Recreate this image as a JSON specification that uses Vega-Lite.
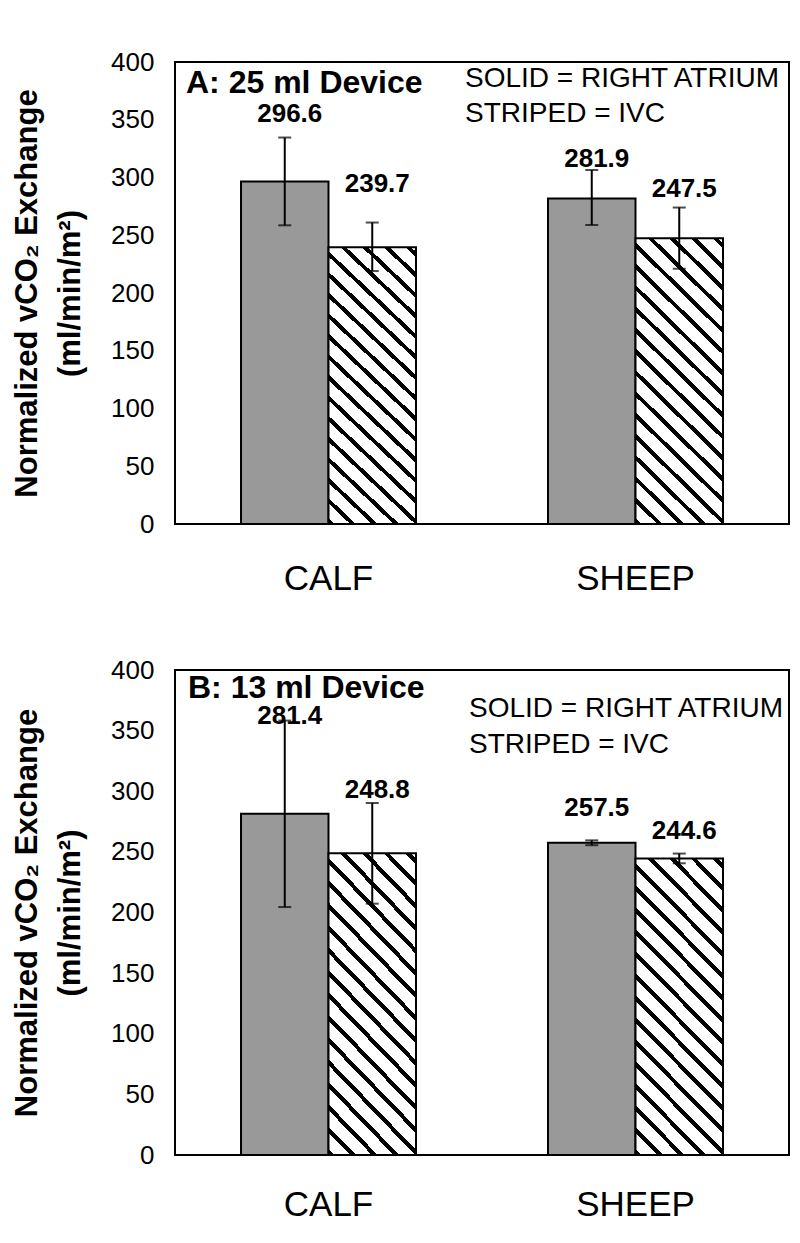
{
  "$schema": "https://vega.github.io/schema/vega-lite/v6.json",
  "background": "white",
  "padding": {"left": 10, "top": 48, "right": 10, "bottom": 5},
  "config": {
    "font": "Liberation Sans",
    "view": {"stroke": "black", "strokeWidth": 2},
    "axis": {"grid": false, "domain": false, "ticks": false, "labelColor": "black", "titleColor": "black", "labelFont": "Liberation Sans", "titleFont": "Liberation Sans"}
  },
  "datasets": {
    "bars": [
      {"panel": "A", "animal": "CALF", "site": "RA", "value": 296.6, "lo": 258.6, "hi": 334.6, "label_pos": 348},
      {"panel": "A", "animal": "CALF", "site": "IVC", "value": 239.7, "lo": 219.0, "hi": 261.0, "label_pos": 287.4},
      {"panel": "A", "animal": "SHEEP", "site": "RA", "value": 281.9, "lo": 258.9, "hi": 306.5, "label_pos": 309},
      {"panel": "A", "animal": "SHEEP", "site": "IVC", "value": 247.5, "lo": 221.0, "hi": 274.0, "label_pos": 283},
      {"panel": "B", "animal": "CALF", "site": "RA", "value": 281.4, "lo": 204.5, "hi": 358.3, "label_pos": 355.5},
      {"panel": "B", "animal": "CALF", "site": "IVC", "value": 248.8, "lo": 207.3, "hi": 290.3, "label_pos": 294.4},
      {"panel": "B", "animal": "SHEEP", "site": "RA", "value": 257.5, "lo": 255.5, "hi": 259.5, "label_pos": 279.6},
      {"panel": "B", "animal": "SHEEP", "site": "IVC", "value": 244.6, "lo": 240.6, "hi": 248.6, "label_pos": 260.6}
    ],
    "notes": [
      {"panel": "A", "kind": "title", "text": "A: 25 ml Device", "at": 373.2},
      {"panel": "A", "kind": "legend", "text": "SOLID = RIGHT ATRIUM", "at": 378.4},
      {"panel": "A", "kind": "legend", "text": "STRIPED = IVC", "at": 348},
      {"panel": "B", "kind": "title", "text": "B: 13 ml Device", "at": 376.9},
      {"panel": "B", "kind": "legend", "text": "SOLID = RIGHT ATRIUM", "at": 361.2},
      {"panel": "B", "kind": "legend", "text": "STRIPED = IVC", "at": 331.5}
    ]
  },
  "spacing": 59,
  "vconcat": [
    {
      "width": 614,
      "height": 462,
      "layer": [
        {
          "data": {"name": "bars"},
          "transform": [{"filter": "datum.panel === 'A' && datum.site === 'RA'"}],
          "mark": {"type": "bar", "fill": "#999999", "stroke": "black", "strokeWidth": 2},
          "encoding": {
            "x": {"field": "animal", "type": "nominal", "sort": ["CALF", "SHEEP"], "scale": {"domain": ["CALF", "SHEEP"], "paddingInner": 0.43, "paddingOuter": 0.215}, "axis": {"title": null, "labelAngle": 0, "labelFontSize": 35, "labelPadding": 37}},
            "xOffset": {"field": "site", "type": "nominal", "scale": {"domain": ["RA", "IVC"], "paddingInner": 0, "paddingOuter": 0}},
            "y": {"field": "value", "type": "quantitative", "scale": {"domain": [0, 400], "nice": false}, "axis": {"values": [0, 50, 100, 150, 200, 250, 300, 350, 400], "labelFontSize": 26, "labelPadding": 21, "title": ["Normalized vCO₂ Exchange", "(ml/min/m²)"], "titleFontSize": 31, "titleFontWeight": "bold", "titleLineHeight": 43, "titlePadding": 24}}
          }
        },
        {
          "data": {"name": "bars"},
          "transform": [{"filter": "datum.panel === 'A' && datum.site === 'IVC'"}],
          "mark": {"type": "bar", "stroke": "black", "strokeWidth": 2, "fill": {"gradient": "linear", "x1": 0, "y1": 1, "x2": 0.3578, "y2": -0.1927, "stops": [
            {"offset": 0.0, "color": "black"}, {"offset": 0.0154, "color": "black"}, {"offset": 0.0154, "color": "white"}, {"offset": 0.0571, "color": "white"},
            {"offset": 0.0571, "color": "black"}, {"offset": 0.0725, "color": "black"}, {"offset": 0.0725, "color": "white"}, {"offset": 0.1143, "color": "white"},
            {"offset": 0.1143, "color": "black"}, {"offset": 0.1297, "color": "black"}, {"offset": 0.1297, "color": "white"}, {"offset": 0.1714, "color": "white"},
            {"offset": 0.1714, "color": "black"}, {"offset": 0.1868, "color": "black"}, {"offset": 0.1868, "color": "white"}, {"offset": 0.2286, "color": "white"},
            {"offset": 0.2286, "color": "black"}, {"offset": 0.2440, "color": "black"}, {"offset": 0.2440, "color": "white"}, {"offset": 0.2857, "color": "white"},
            {"offset": 0.2857, "color": "black"}, {"offset": 0.3011, "color": "black"}, {"offset": 0.3011, "color": "white"}, {"offset": 0.3429, "color": "white"},
            {"offset": 0.3429, "color": "black"}, {"offset": 0.3583, "color": "black"}, {"offset": 0.3583, "color": "white"}, {"offset": 0.4000, "color": "white"},
            {"offset": 0.4000, "color": "black"}, {"offset": 0.4154, "color": "black"}, {"offset": 0.4154, "color": "white"}, {"offset": 0.4571, "color": "white"},
            {"offset": 0.4571, "color": "black"}, {"offset": 0.4725, "color": "black"}, {"offset": 0.4725, "color": "white"}, {"offset": 0.5143, "color": "white"},
            {"offset": 0.5143, "color": "black"}, {"offset": 0.5297, "color": "black"}, {"offset": 0.5297, "color": "white"}, {"offset": 0.5714, "color": "white"},
            {"offset": 0.5714, "color": "black"}, {"offset": 0.5868, "color": "black"}, {"offset": 0.5868, "color": "white"}, {"offset": 0.6286, "color": "white"},
            {"offset": 0.6286, "color": "black"}, {"offset": 0.6440, "color": "black"}, {"offset": 0.6440, "color": "white"}, {"offset": 0.6857, "color": "white"},
            {"offset": 0.6857, "color": "black"}, {"offset": 0.7011, "color": "black"}, {"offset": 0.7011, "color": "white"}, {"offset": 0.7429, "color": "white"},
            {"offset": 0.7429, "color": "black"}, {"offset": 0.7583, "color": "black"}, {"offset": 0.7583, "color": "white"}, {"offset": 0.8000, "color": "white"},
            {"offset": 0.8000, "color": "black"}, {"offset": 0.8154, "color": "black"}, {"offset": 0.8154, "color": "white"}, {"offset": 0.8571, "color": "white"},
            {"offset": 0.8571, "color": "black"}, {"offset": 0.8725, "color": "black"}, {"offset": 0.8725, "color": "white"}, {"offset": 0.9143, "color": "white"},
            {"offset": 0.9143, "color": "black"}, {"offset": 0.9297, "color": "black"}, {"offset": 0.9297, "color": "white"}, {"offset": 0.9714, "color": "white"},
            {"offset": 0.9714, "color": "black"}, {"offset": 0.9868, "color": "black"}, {"offset": 0.9868, "color": "white"}, {"offset": 1.0, "color": "white"}
          ]}},
          "encoding": {
            "x": {"field": "animal", "type": "nominal"},
            "xOffset": {"field": "site", "type": "nominal"},
            "y": {"field": "value", "type": "quantitative"}
          }
        },
        {
          "data": {"name": "bars"},
          "transform": [{"filter": "datum.panel === 'A'"}],
          "mark": {"type": "rule", "color": "black", "strokeWidth": 2},
          "encoding": {
            "x": {"field": "animal", "type": "nominal"},
            "xOffset": {"field": "site", "type": "nominal"},
            "y": {"field": "lo", "type": "quantitative"},
            "y2": {"field": "hi"}
          }
        },
        {
          "data": {"name": "bars"},
          "transform": [{"filter": "datum.panel === 'A'"}],
          "mark": {"type": "tick", "color": "black", "size": 13, "thickness": 2},
          "encoding": {
            "x": {"field": "animal", "type": "nominal"},
            "xOffset": {"field": "site", "type": "nominal"},
            "y": {"field": "lo", "type": "quantitative"}
          }
        },
        {
          "data": {"name": "bars"},
          "transform": [{"filter": "datum.panel === 'A'"}],
          "mark": {"type": "tick", "color": "black", "size": 13, "thickness": 2},
          "encoding": {
            "x": {"field": "animal", "type": "nominal"},
            "xOffset": {"field": "site", "type": "nominal"},
            "y": {"field": "hi", "type": "quantitative"}
          }
        },
        {
          "data": {"name": "bars"},
          "transform": [{"filter": "datum.panel === 'A'"}],
          "mark": {"type": "text", "fontWeight": "bold", "fontSize": 26, "baseline": "alphabetic", "dx": 5, "color": "black"},
          "encoding": {
            "x": {"field": "animal", "type": "nominal"},
            "xOffset": {"field": "site", "type": "nominal"},
            "y": {"field": "label_pos", "type": "quantitative"},
            "text": {"field": "value", "type": "quantitative", "format": ".1f"}
          }
        },
        {
          "data": {"name": "notes"},
          "transform": [{"filter": "datum.panel === 'A' && datum.kind === 'title'"}],
          "mark": {"type": "text", "fontWeight": "bold", "fontSize": 32, "baseline": "alphabetic", "align": "left", "dx": -55, "color": "black"},
          "encoding": {
            "x": {"datum": "CALF", "type": "nominal", "bandPosition": 0},
            "y": {"field": "at", "type": "quantitative"},
            "text": {"field": "text"}
          }
        },
        {
          "data": {"name": "notes"},
          "transform": [{"filter": "datum.panel === 'A' && datum.kind === 'legend'"}],
          "mark": {"type": "text", "fontSize": 28, "baseline": "alphabetic", "align": "left", "dx": 49, "color": "black"},
          "encoding": {
            "x": {"datum": "CALF", "type": "nominal", "bandPosition": 1},
            "y": {"field": "at", "type": "quantitative"},
            "text": {"field": "text"}
          }
        }
      ]
    },
    {
      "width": 614,
      "height": 485,
      "layer": [
        {
          "data": {"name": "bars"},
          "transform": [{"filter": "datum.panel === 'B' && datum.site === 'RA'"}],
          "mark": {"type": "bar", "fill": "#999999", "stroke": "black", "strokeWidth": 2},
          "encoding": {
            "x": {"field": "animal", "type": "nominal", "sort": ["CALF", "SHEEP"], "scale": {"domain": ["CALF", "SHEEP"], "paddingInner": 0.43, "paddingOuter": 0.215}, "axis": {"title": null, "labelAngle": 0, "labelFontSize": 35, "labelPadding": 32}},
            "xOffset": {"field": "site", "type": "nominal", "scale": {"domain": ["RA", "IVC"], "paddingInner": 0, "paddingOuter": 0}},
            "y": {"field": "value", "type": "quantitative", "scale": {"domain": [0, 400], "nice": false}, "axis": {"values": [0, 50, 100, 150, 200, 250, 300, 350, 400], "labelFontSize": 26, "labelPadding": 21, "title": ["Normalized vCO₂ Exchange", "(ml/min/m²)"], "titleFontSize": 31, "titleFontWeight": "bold", "titleLineHeight": 43, "titlePadding": 24}}
          }
        },
        {
          "data": {"name": "bars"},
          "transform": [{"filter": "datum.panel === 'B' && datum.site === 'IVC'"}],
          "mark": {"type": "bar", "stroke": "black", "strokeWidth": 2, "fill": {"gradient": "linear", "x1": 0, "y1": 1, "x2": 0.3578, "y2": -0.1927, "stops": [
            {"offset": 0.0, "color": "black"}, {"offset": 0.0154, "color": "black"}, {"offset": 0.0154, "color": "white"}, {"offset": 0.0571, "color": "white"},
            {"offset": 0.0571, "color": "black"}, {"offset": 0.0725, "color": "black"}, {"offset": 0.0725, "color": "white"}, {"offset": 0.1143, "color": "white"},
            {"offset": 0.1143, "color": "black"}, {"offset": 0.1297, "color": "black"}, {"offset": 0.1297, "color": "white"}, {"offset": 0.1714, "color": "white"},
            {"offset": 0.1714, "color": "black"}, {"offset": 0.1868, "color": "black"}, {"offset": 0.1868, "color": "white"}, {"offset": 0.2286, "color": "white"},
            {"offset": 0.2286, "color": "black"}, {"offset": 0.2440, "color": "black"}, {"offset": 0.2440, "color": "white"}, {"offset": 0.2857, "color": "white"},
            {"offset": 0.2857, "color": "black"}, {"offset": 0.3011, "color": "black"}, {"offset": 0.3011, "color": "white"}, {"offset": 0.3429, "color": "white"},
            {"offset": 0.3429, "color": "black"}, {"offset": 0.3583, "color": "black"}, {"offset": 0.3583, "color": "white"}, {"offset": 0.4000, "color": "white"},
            {"offset": 0.4000, "color": "black"}, {"offset": 0.4154, "color": "black"}, {"offset": 0.4154, "color": "white"}, {"offset": 0.4571, "color": "white"},
            {"offset": 0.4571, "color": "black"}, {"offset": 0.4725, "color": "black"}, {"offset": 0.4725, "color": "white"}, {"offset": 0.5143, "color": "white"},
            {"offset": 0.5143, "color": "black"}, {"offset": 0.5297, "color": "black"}, {"offset": 0.5297, "color": "white"}, {"offset": 0.5714, "color": "white"},
            {"offset": 0.5714, "color": "black"}, {"offset": 0.5868, "color": "black"}, {"offset": 0.5868, "color": "white"}, {"offset": 0.6286, "color": "white"},
            {"offset": 0.6286, "color": "black"}, {"offset": 0.6440, "color": "black"}, {"offset": 0.6440, "color": "white"}, {"offset": 0.6857, "color": "white"},
            {"offset": 0.6857, "color": "black"}, {"offset": 0.7011, "color": "black"}, {"offset": 0.7011, "color": "white"}, {"offset": 0.7429, "color": "white"},
            {"offset": 0.7429, "color": "black"}, {"offset": 0.7583, "color": "black"}, {"offset": 0.7583, "color": "white"}, {"offset": 0.8000, "color": "white"},
            {"offset": 0.8000, "color": "black"}, {"offset": 0.8154, "color": "black"}, {"offset": 0.8154, "color": "white"}, {"offset": 0.8571, "color": "white"},
            {"offset": 0.8571, "color": "black"}, {"offset": 0.8725, "color": "black"}, {"offset": 0.8725, "color": "white"}, {"offset": 0.9143, "color": "white"},
            {"offset": 0.9143, "color": "black"}, {"offset": 0.9297, "color": "black"}, {"offset": 0.9297, "color": "white"}, {"offset": 0.9714, "color": "white"},
            {"offset": 0.9714, "color": "black"}, {"offset": 0.9868, "color": "black"}, {"offset": 0.9868, "color": "white"}, {"offset": 1.0, "color": "white"}
          ]}},
          "encoding": {
            "x": {"field": "animal", "type": "nominal"},
            "xOffset": {"field": "site", "type": "nominal"},
            "y": {"field": "value", "type": "quantitative"}
          }
        },
        {
          "data": {"name": "bars"},
          "transform": [{"filter": "datum.panel === 'B'"}],
          "mark": {"type": "rule", "color": "black", "strokeWidth": 2},
          "encoding": {
            "x": {"field": "animal", "type": "nominal"},
            "xOffset": {"field": "site", "type": "nominal"},
            "y": {"field": "lo", "type": "quantitative"},
            "y2": {"field": "hi"}
          }
        },
        {
          "data": {"name": "bars"},
          "transform": [{"filter": "datum.panel === 'B'"}],
          "mark": {"type": "tick", "color": "black", "size": 13, "thickness": 2},
          "encoding": {
            "x": {"field": "animal", "type": "nominal"},
            "xOffset": {"field": "site", "type": "nominal"},
            "y": {"field": "lo", "type": "quantitative"}
          }
        },
        {
          "data": {"name": "bars"},
          "transform": [{"filter": "datum.panel === 'B'"}],
          "mark": {"type": "tick", "color": "black", "size": 13, "thickness": 2},
          "encoding": {
            "x": {"field": "animal", "type": "nominal"},
            "xOffset": {"field": "site", "type": "nominal"},
            "y": {"field": "hi", "type": "quantitative"}
          }
        },
        {
          "data": {"name": "bars"},
          "transform": [{"filter": "datum.panel === 'B'"}],
          "mark": {"type": "text", "fontWeight": "bold", "fontSize": 26, "baseline": "alphabetic", "dx": 5, "color": "black"},
          "encoding": {
            "x": {"field": "animal", "type": "nominal"},
            "xOffset": {"field": "site", "type": "nominal"},
            "y": {"field": "label_pos", "type": "quantitative"},
            "text": {"field": "value", "type": "quantitative", "format": ".1f"}
          }
        },
        {
          "data": {"name": "notes"},
          "transform": [{"filter": "datum.panel === 'B' && datum.kind === 'title'"}],
          "mark": {"type": "text", "fontWeight": "bold", "fontSize": 32, "baseline": "alphabetic", "align": "left", "dx": -53, "color": "black"},
          "encoding": {
            "x": {"datum": "CALF", "type": "nominal", "bandPosition": 0},
            "y": {"field": "at", "type": "quantitative"},
            "text": {"field": "text"}
          }
        },
        {
          "data": {"name": "notes"},
          "transform": [{"filter": "datum.panel === 'B' && datum.kind === 'legend'"}],
          "mark": {"type": "text", "fontSize": 28, "baseline": "alphabetic", "align": "left", "dx": 53, "color": "black"},
          "encoding": {
            "x": {"datum": "CALF", "type": "nominal", "bandPosition": 1},
            "y": {"field": "at", "type": "quantitative"},
            "text": {"field": "text"}
          }
        }
      ]
    }
  ]
}
